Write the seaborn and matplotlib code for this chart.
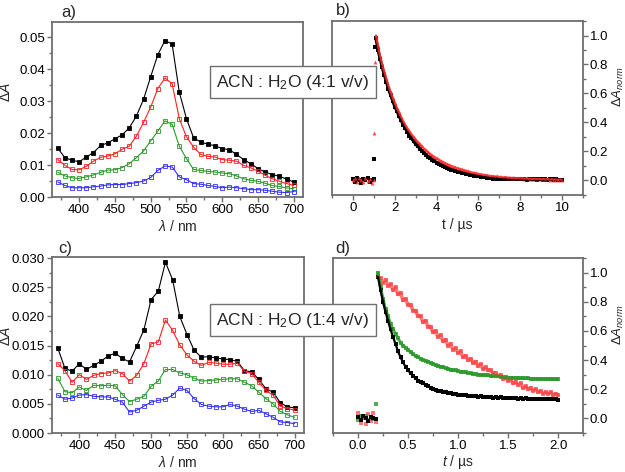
import matplotlib
matplotlib.use("Agg")
import matplotlib.pyplot as plt
from matplotlib.ticker import MultipleLocator, FormatStrFormatter
import seaborn as sns

# ---------------- transient absorption spectra (panels a and c) ----------------
wavelength = [370, 380, 390, 400, 410, 420, 430, 440, 450, 460, 470, 480, 490, 500, 510, 520, 530,
              540, 550, 560, 570, 580, 590, 600, 610, 620, 630, 640, 650, 660, 670, 680, 690, 700]

# ACN : H2O (4:1 v/v)
a_black = [0.0153, 0.0123, 0.0115, 0.0110, 0.0125, 0.0139, 0.0161, 0.0169, 0.0182, 0.0194, 0.0216, 0.0253,
           0.0305, 0.0376, 0.0445, 0.0489, 0.0478, 0.0328, 0.0245, 0.0185, 0.0172, 0.0165, 0.0160, 0.0151,
           0.0148, 0.0133, 0.0117, 0.0104, 0.0089, 0.0078, 0.0070, 0.0065, 0.0056, 0.0047]
a_red = [0.0117, 0.0099, 0.0086, 0.0085, 0.0096, 0.0112, 0.0124, 0.0128, 0.0135, 0.0149, 0.0159, 0.0190,
         0.0233, 0.0281, 0.0339, 0.0372, 0.0354, 0.0245, 0.0188, 0.0156, 0.0133, 0.0127, 0.0125, 0.0117,
         0.0115, 0.0112, 0.0099, 0.0091, 0.0081, 0.0068, 0.0057, 0.0049, 0.0042, 0.0036]
a_green = [0.0078, 0.0066, 0.0060, 0.0058, 0.0063, 0.0069, 0.0077, 0.0084, 0.0085, 0.0092, 0.0104, 0.0123,
           0.0144, 0.0175, 0.0206, 0.0238, 0.0227, 0.0159, 0.0120, 0.0086, 0.0083, 0.0080, 0.0078, 0.0075,
           0.0073, 0.0066, 0.0057, 0.0052, 0.0049, 0.0043, 0.0036, 0.0033, 0.0028, 0.0026]
a_blue = [0.0047, 0.0036, 0.0029, 0.0029, 0.0029, 0.0032, 0.0034, 0.0038, 0.0039, 0.0039, 0.0042, 0.0045,
          0.0050, 0.0061, 0.0083, 0.0097, 0.0094, 0.0063, 0.0054, 0.0042, 0.0040, 0.0036, 0.0033, 0.0029,
          0.0031, 0.0029, 0.0026, 0.0023, 0.0023, 0.0021, 0.0018, 0.0015, 0.0014, 0.0017]

# ACN : H2O (1:4 v/v)
c_black = [0.0146, 0.0111, 0.0106, 0.0119, 0.0109, 0.0116, 0.0123, 0.0132, 0.0137, 0.0128, 0.0122, 0.0149,
           0.0177, 0.0229, 0.0243, 0.0293, 0.0263, 0.0200, 0.0169, 0.0142, 0.0130, 0.0131, 0.0129, 0.0127,
           0.0126, 0.0123, 0.0107, 0.0105, 0.0092, 0.0076, 0.0070, 0.0052, 0.0045, 0.0043]
c_red = [0.0119, 0.0107, 0.0087, 0.0100, 0.0092, 0.0099, 0.0102, 0.0103, 0.0107, 0.0102, 0.0089, 0.0099,
         0.0119, 0.0153, 0.0156, 0.0194, 0.0176, 0.0151, 0.0134, 0.0123, 0.0116, 0.0121, 0.0120, 0.0118,
         0.0118, 0.0120, 0.0106, 0.0102, 0.0087, 0.0073, 0.0065, 0.0046, 0.0042, 0.0039]
c_green = [0.0094, 0.0071, 0.0069, 0.0079, 0.0073, 0.0082, 0.0081, 0.0082, 0.0081, 0.0066, 0.0054, 0.0058,
           0.0063, 0.0080, 0.0089, 0.0109, 0.0109, 0.0103, 0.0100, 0.0094, 0.0089, 0.0090, 0.0091, 0.0092,
           0.0093, 0.0093, 0.0087, 0.0081, 0.0070, 0.0059, 0.0050, 0.0037, 0.0031, 0.0027]
c_blue = [0.0065, 0.0058, 0.0060, 0.0065, 0.0066, 0.0063, 0.0062, 0.0062, 0.0058, 0.0053, 0.0036, 0.0039,
          0.0046, 0.0053, 0.0056, 0.0058, 0.0065, 0.0077, 0.0073, 0.0059, 0.0049, 0.0046, 0.0045, 0.0045,
          0.0049, 0.0046, 0.0041, 0.0037, 0.0039, 0.0033, 0.0027, 0.0019, 0.0018, 0.0016]

# ---------------- normalised kinetics, panel b (time in us) ----------------
t_b = [0.0, 0.1, 0.2, 0.3, 0.4, 0.5, 0.6, 0.7, 0.8, 0.9, 1.0, 1.03, 1.04,
       1.1, 1.2, 1.3, 1.4, 1.5, 1.6, 1.7, 1.8, 1.9, 2.0, 2.1, 2.2, 2.3, 2.4, 2.5, 2.6, 2.7, 2.8, 2.9, 3.0,
       3.1, 3.2, 3.3, 3.4, 3.5, 3.6, 3.7, 3.8, 3.9, 4.0, 4.1, 4.2, 4.3, 4.4, 4.5, 4.6, 4.7, 4.8, 4.9, 5.0,
       5.1, 5.2, 5.3, 5.4, 5.5, 5.6, 5.7, 5.8, 5.9, 6.0, 6.1, 6.2, 6.3, 6.4, 6.5, 6.6, 6.7, 6.8, 6.9, 7.0,
       7.1, 7.2, 7.3, 7.4, 7.5, 7.6, 7.7, 7.8, 7.9, 8.0, 8.1, 8.2, 8.3, 8.4, 8.5, 8.6, 8.7, 8.8, 8.9, 9.0,
       9.1, 9.2, 9.3, 9.4, 9.5, 9.6, 9.7, 9.8, 9.9, 10.0]
b_black = [0.010, -0.010, 0.020, 0.000, -0.015, 0.012, 0.000, 0.018, -0.010, 0.005, 0.010, 0.15, 0.92,
           0.98, 0.90, 0.84, 0.78, 0.73, 0.68, 0.63, 0.59, 0.55, 0.51, 0.48, 0.445, 0.415, 0.385, 0.36, 0.335,
           0.31, 0.29, 0.27, 0.25, 0.235, 0.22, 0.205, 0.19, 0.178, 0.165, 0.153, 0.143, 0.133, 0.124, 0.115,
           0.107, 0.100, 0.093, 0.087, 0.080, 0.075, 0.070, 0.065, 0.060, 0.057, 0.052, 0.050, 0.045, 0.043,
           0.038, 0.036, 0.033, 0.030, 0.028, 0.027, 0.023, 0.022, 0.020, 0.019, 0.016, 0.012, 0.015, 0.013,
           0.012, 0.010, 0.013, 0.009, 0.011, 0.008, 0.010, 0.012, 0.007, 0.009, 0.011, 0.008, 0.010, 0.006,
           0.009, 0.011, 0.007, 0.009, 0.005, 0.008, 0.010, 0.006, 0.008, 0.004, 0.007, 0.009, 0.005, 0.007,
           0.004, 0.006, 0.005]
b_red = [0.000, 0.015, -0.012, 0.020, 0.005, -0.010, 0.015, -0.005, 0.010, -0.015, 0.000, 0.33, 0.82,
         1.00, 0.93, 0.86, 0.80, 0.75, 0.70, 0.655, 0.61, 0.57, 0.535, 0.50, 0.47, 0.44, 0.41, 0.385, 0.36,
         0.34, 0.32, 0.30, 0.28, 0.265, 0.25, 0.235, 0.22, 0.207, 0.195, 0.183, 0.172, 0.162, 0.153, 0.144,
         0.136, 0.128, 0.120, 0.113, 0.107, 0.100, 0.095, 0.090, 0.085, 0.080, 0.076, 0.070, 0.068, 0.063,
         0.060, 0.055, 0.053, 0.050, 0.046, 0.044, 0.040, 0.039, 0.035, 0.034, 0.030, 0.031, 0.027, 0.028,
         0.024, 0.025, 0.021, 0.023, 0.019, 0.020, 0.017, 0.019, 0.015, 0.017, 0.014, 0.016, 0.012, 0.015,
         0.011, 0.013, 0.010, 0.012, 0.009, 0.012, 0.008, 0.011, 0.007, 0.010, 0.006, 0.009, 0.005, 0.008,
         0.004, 0.007, 0.005]
b_peak = 13  # first point after the laser pulse

# ---------------- normalised kinetics, panel d (time in us) ----------------
t_d = [0.0, 0.025, 0.05, 0.075, 0.1, 0.125, 0.15, 0.175,
       0.2, 0.225, 0.25, 0.275, 0.3, 0.325, 0.35, 0.375, 0.4, 0.425, 0.45, 0.475, 0.5, 0.525, 0.55, 0.575,
       0.6, 0.625, 0.65, 0.675, 0.7, 0.725, 0.75, 0.775, 0.8, 0.825, 0.85, 0.875, 0.9, 0.925, 0.95, 0.975,
       1.0, 1.025, 1.05, 1.075, 1.1, 1.125, 1.15, 1.175, 1.2, 1.225, 1.25, 1.275, 1.3, 1.325, 1.35, 1.375,
       1.4, 1.425, 1.45, 1.475, 1.5, 1.525, 1.55, 1.575, 1.6, 1.625, 1.65, 1.675, 1.7, 1.725, 1.75, 1.775,
       1.8, 1.825, 1.85, 1.875, 1.9, 1.925, 1.95, 1.975, 2.0]
d_black = [0.010, -0.010, 0.020, 0.000, -0.015, 0.010, 0.005, -0.005,
           0.97, 0.88, 0.80, 0.73, 0.67, 0.61, 0.56, 0.51, 0.46, 0.42, 0.385, 0.355, 0.33, 0.31, 0.29, 0.275,
           0.26, 0.25, 0.24, 0.23, 0.22, 0.212, 0.205, 0.198, 0.19, 0.186, 0.182, 0.178, 0.175, 0.172, 0.168,
           0.166, 0.164, 0.163, 0.158, 0.160, 0.155, 0.157, 0.152, 0.154, 0.150, 0.152, 0.147, 0.149, 0.146,
           0.148, 0.143, 0.145, 0.142, 0.144, 0.140, 0.142, 0.139, 0.141, 0.137, 0.140, 0.136, 0.138, 0.135,
           0.137, 0.134, 0.136, 0.133, 0.135, 0.132, 0.134, 0.131, 0.133, 0.130, 0.132, 0.130, 0.131, 0.129]
d_green = [-0.010, 0.020, 0.000, 0.015, -0.010, 0.010, -0.005, 0.100,
           1.00, 0.90, 0.82, 0.75, 0.70, 0.65, 0.61, 0.58, 0.55, 0.52, 0.50, 0.485, 0.47, 0.455, 0.44, 0.43,
           0.42, 0.41, 0.40, 0.395, 0.39, 0.38, 0.375, 0.365, 0.36, 0.355, 0.35, 0.345, 0.34, 0.335, 0.33,
           0.33, 0.325, 0.32, 0.32, 0.315, 0.31, 0.31, 0.305, 0.305, 0.30, 0.30, 0.298, 0.295, 0.295, 0.292,
           0.29, 0.29, 0.288, 0.285, 0.285, 0.283, 0.28, 0.28, 0.279, 0.278, 0.278, 0.276, 0.275, 0.275,
           0.274, 0.273, 0.273, 0.272, 0.272, 0.271, 0.27, 0.27, 0.27, 0.269, 0.268, 0.268, 0.267]
d_red = [0.040, -0.030, 0.020, -0.040, 0.030, -0.020, 0.035, -0.025,
         0.97, 0.96, 0.93, 0.95, 0.91, 0.92, 0.88, 0.90, 0.85, 0.86, 0.81, 0.82, 0.78, 0.78, 0.74, 0.74,
         0.70, 0.70, 0.66, 0.67, 0.63, 0.63, 0.59, 0.60, 0.56, 0.57, 0.53, 0.54, 0.50, 0.51, 0.47, 0.48,
         0.45, 0.46, 0.42, 0.43, 0.40, 0.41, 0.38, 0.39, 0.36, 0.37, 0.34, 0.35, 0.33, 0.33, 0.31, 0.31,
         0.29, 0.30, 0.27, 0.28, 0.26, 0.27, 0.24, 0.25, 0.23, 0.24, 0.21, 0.22, 0.20, 0.21, 0.19, 0.20,
         0.18, 0.19, 0.17, 0.18, 0.17, 0.18, 0.16, 0.17, 0.16]
d_peak = 8  # first point after the laser pulse

# ---------------- style ----------------
sns.set_style("ticks")
plt.rcParams['font.family'] = ['Liberation Sans', 'DejaVu Sans']
plt.rcParams['mathtext.fontset'] = 'custom'
plt.rcParams['mathtext.rm'] = 'Liberation Sans'
plt.rcParams['mathtext.it'] = 'Liberation Sans:italic'
plt.rcParams['mathtext.bf'] = 'Liberation Sans:bold'

spine_grey = '#6e6e6e'
fig = plt.figure(figsize=(6.25, 4.72), dpi=100)
ax_a = fig.add_axes([0.0832, 0.5826, 0.4016, 0.3708])
ax_b = fig.add_axes([0.5312, 0.5869, 0.4016, 0.3686])
ax_c = fig.add_axes([0.0832, 0.0826, 0.4032, 0.3729])
ax_d = fig.add_axes([0.5328, 0.0826, 0.4000, 0.3708])


def style_axis(ax, right=False):
    for sp in ax.spines.values():
        sp.set_visible(True)
        sp.set_color(spine_grey)
        sp.set_linewidth(1.3)
    ax.tick_params(which='both', direction='out', color=spine_grey, width=1.0, labelsize=9.5,
                   labelcolor='black', pad=1.5)
    ax.tick_params(which='major', length=3.5)
    ax.tick_params(which='minor', length=2.2)
    if right:
        ax.yaxis.tick_right()
        ax.yaxis.set_label_position('right')
        ax.tick_params(which='both', left=False, right=True)


# spectra: black filled squares, coloured open squares
spec_styles = [('black', 'black'), ('#ff2020', 'none'), ('#2a9a2a', 'none'), ('#3030ff', 'none')]
for ax, series in [(ax_a, [a_black, a_red, a_green, a_blue]), (ax_c, [c_black, c_red, c_green, c_blue])]:
    for vals, (col, face) in zip(series, spec_styles):
        sns.lineplot(x=wavelength, y=vals, ax=ax, color=col, linewidth=0.8, marker='s',
                     markersize=3.0, markerfacecolor=face, markeredgecolor=col, markeredgewidth=0.6)
    style_axis(ax)
    ax.set_xlim(362, 713)
    ax.xaxis.set_major_locator(MultipleLocator(50))
    ax.xaxis.set_minor_locator(MultipleLocator(25))
    ax.set_xlabel(r'$\lambda$ / nm', fontsize=10, labelpad=2)

ax_a.set_ylim(0, 0.0547)
ax_a.yaxis.set_major_locator(MultipleLocator(0.01))
ax_a.yaxis.set_minor_locator(MultipleLocator(0.005))
ax_a.yaxis.set_major_formatter(FormatStrFormatter('%.2f'))
ax_a.set_ylabel(r'$\mathit{\Delta A}$', fontsize=10)
ax_a.yaxis.set_label_coords(-0.155, 0.6)

ax_c.set_ylim(0, 0.0302)
ax_c.yaxis.set_major_locator(MultipleLocator(0.005))
ax_c.yaxis.set_minor_locator(MultipleLocator(0.0025))
ax_c.yaxis.set_major_formatter(FormatStrFormatter('%.3f'))
ax_c.set_ylabel(r'$\mathit{\Delta A}$', fontsize=10)
ax_c.yaxis.set_label_coords(-0.155, 0.55)


def draw_trace(ax, t, vals, start, col, lw, marker, ms, alpha):
    # all recorded points, plus a band through the decay after the pulse
    sns.scatterplot(x=t, y=vals, ax=ax, color=col, marker=marker, s=ms, linewidth=0, alpha=alpha)
    sns.lineplot(x=t[start:], y=vals[start:], ax=ax, color=col, linewidth=lw, alpha=alpha)


# kinetics panel b
draw_trace(ax_b, t_b, b_black, b_peak, 'black', 2.2, 's', 6, 1.0)
draw_trace(ax_b, t_b, b_red, b_peak, '#ff3030', 1.6, '^', 8, 0.85)
style_axis(ax_b, right=True)
ax_b.set_xlim(-1, 11)
ax_b.set_ylim(-0.1, 1.1)
ax_b.xaxis.set_major_locator(MultipleLocator(2))
ax_b.xaxis.set_minor_locator(MultipleLocator(1))
ax_b.yaxis.set_major_locator(MultipleLocator(0.2))
ax_b.yaxis.set_minor_locator(MultipleLocator(0.1))
ax_b.yaxis.set_major_formatter(FormatStrFormatter('%.1f'))
ax_b.set_xlabel('t / µs', fontsize=10, labelpad=3)
ax_b.set_ylabel(r'$\mathit{\Delta A_{norm}}$', fontsize=9.5, rotation=90)
ax_b.yaxis.set_label_coords(1.112, 0.62)

# kinetics panel d
draw_trace(ax_d, t_d, d_red, d_peak, '#ff4040', 2.6, 's', 6, 0.7)
draw_trace(ax_d, t_d, d_green, d_peak, '#2a9a2a', 2.2, 's', 6, 0.8)
draw_trace(ax_d, t_d, d_black, d_peak, 'black', 1.6, 's', 5, 1.0)
style_axis(ax_d, right=True)
ax_d.set_xlim(-0.25, 2.25)
ax_d.set_ylim(-0.1, 1.1)
ax_d.xaxis.set_major_locator(MultipleLocator(0.5))
ax_d.xaxis.set_minor_locator(MultipleLocator(0.25))
ax_d.yaxis.set_major_locator(MultipleLocator(0.2))
ax_d.yaxis.set_minor_locator(MultipleLocator(0.1))
ax_d.yaxis.set_major_formatter(FormatStrFormatter('%.1f'))
ax_d.set_xlabel(r'$t$ / µs', fontsize=10, labelpad=1)
ax_d.set_ylabel(r'$\mathit{\Delta A_{norm}}$', fontsize=9.5, rotation=90)
ax_d.yaxis.set_label_coords(1.112, 0.62)

# panel letters
fig.text(61 / 625, 1 - 13 / 472, 'a)', fontsize=12, va='center')
fig.text(336 / 625, 1 - 10 / 472, 'b)', fontsize=12, va='center')
fig.text(58 / 625, 1 - 248 / 472, 'c)', fontsize=12, va='center')
fig.text(335 / 625, 1 - 248 / 472, 'd)', fontsize=12, va='center')

# solvent boxes across the two columns
box = dict(boxstyle='square,pad=0.35', facecolor='white', edgecolor='#707070', linewidth=1.0)
fig.text(293 / 625, 1 - 82 / 472, r'ACN : H$_2$O (4:1 v/v)', fontsize=12.5, ha='center', va='center',
         bbox=box, zorder=10)
fig.text(293 / 625, 1 - 320 / 472, r'ACN : H$_2$O (1:4 v/v)', fontsize=12.5, ha='center', va='center',
         bbox=box, zorder=10)

fig.savefig('out.png', dpi=100)
